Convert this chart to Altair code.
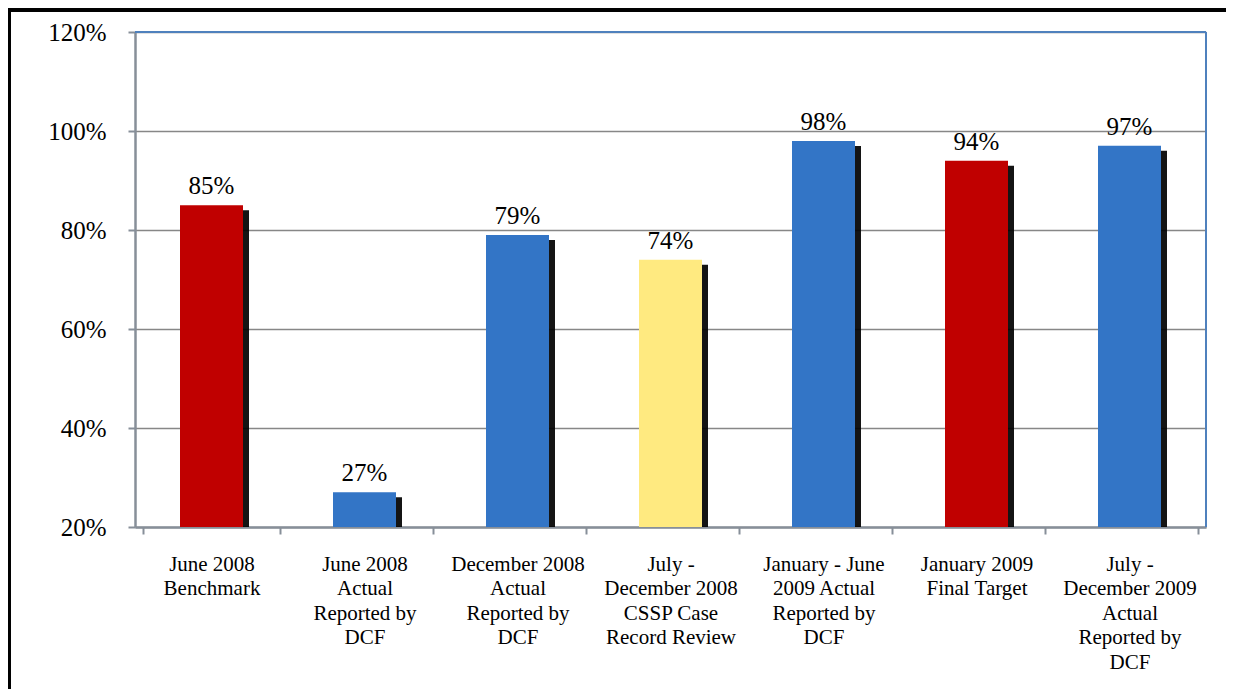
import altair as alt
import pandas as pd

categories = [
    "June 2008|Benchmark",
    "June 2008|Actual|Reported by|DCF",
    "December 2008|Actual|Reported by|DCF",
    "July -|December 2008|CSSP Case|Record Review",
    "January - June|2009 Actual|Reported by|DCF",
    "January 2009|Final Target",
    "July -|December 2009|Actual|Reported by|DCF",
]
values = [85, 27, 79, 74, 98, 94, 97]
kinds = ["Target", "Actual", "Actual", "Review", "Actual", "Target", "Actual"]

kind_domain = ["Target", "Actual", "Review"]
kind_colors = ["#C00000", "#3375C6", "#FFEA80"]

df = pd.DataFrame({"cat": categories, "value": values, "kind": kinds})
df["lab"] = [f"{v}%" for v in values]

W, H = 1071, 495
FONT = "'Liberation Serif', 'Times New Roman', Times, serif"

x_enc = alt.X(
    "cat:N",
    sort=None,
    title=None,
    axis=alt.Axis(
        labelAngle=0,
        labelExpr="split(datum.label, '|')",
        labelFont=FONT,
        labelFontSize=21,
        labelLineHeight=24.5,
        labelColor="black",
        labelPadding=19,
        tickBand="extent",
        tickSize=7,
        tickColor="#878F99",
        tickWidth=2,
        domainColor="#878F99",
        domainWidth=2.5,
        grid=False,
    ),
)
y_scale = alt.Scale(domain=[20, 120], zero=False, nice=False)
y_enc = alt.Y(
    "value:Q",
    scale=y_scale,
    title=None,
    axis=alt.Axis(
        values=[20, 40, 60, 80, 100, 120],
        labelExpr="datum.value + '%'",
        labelFont=FONT,
        labelFontSize=25,
        labelColor="black",
        labelPadding=22,
        tickSize=7,
        tickColor="#878F99",
        tickWidth=2,
        domainColor="#878F99",
        domainWidth=2.5,
        grid=True,
        gridColor="#878787",
        gridWidth=1.5,
    ),
)

base = alt.Chart(df)

shadow = base.mark_bar(size=63, color="black", opacity=0.92, xOffset=6, yOffset=5).encode(
    x=x_enc, y=y_enc, y2=alt.Y2(datum=20)
)
bars = base.mark_bar(size=63).encode(
    x=x_enc,
    y=y_enc,
    y2=alt.Y2(datum=20),
    color=alt.Color("kind:N", scale=alt.Scale(domain=kind_domain, range=kind_colors), legend=None),
)
labels = base.mark_text(font=FONT, fontSize=25, baseline="alphabetic", dy=-11, color="black").encode(
    x=x_enc, y=y_enc, text="lab:N"
)

top_border = alt.Chart(df).mark_rule(color="#4F81BD", strokeWidth=2).encode(
    x=alt.value(0), x2=alt.value(W), y=alt.value(0)
)
right_border = alt.Chart(df).mark_rule(color="#4F81BD", strokeWidth=2).encode(
    x=alt.value(W), y=alt.value(0), y2=alt.value(H)
)
frame_top = alt.Chart(df).mark_rule(color="black", strokeWidth=3).encode(
    x=alt.value(-127), x2=alt.value(W + 40), y=alt.value(-22)
)
frame_left = alt.Chart(df).mark_rule(color="black", strokeWidth=3).encode(
    x=alt.value(-126), y=alt.value(-22), y2=alt.value(H + 200)
)

chart = alt.layer(shadow, bars, labels, top_border, right_border, frame_top, frame_left).properties(
    width=W,
    height=H,
    autosize=alt.AutoSizeParams(type="none"),
    padding={"left": 127, "top": 24, "right": 20, "bottom": 162},
).configure_view(stroke=None)

chart.save("out.html", embed_options={"renderer": "svg", "actions": False})
